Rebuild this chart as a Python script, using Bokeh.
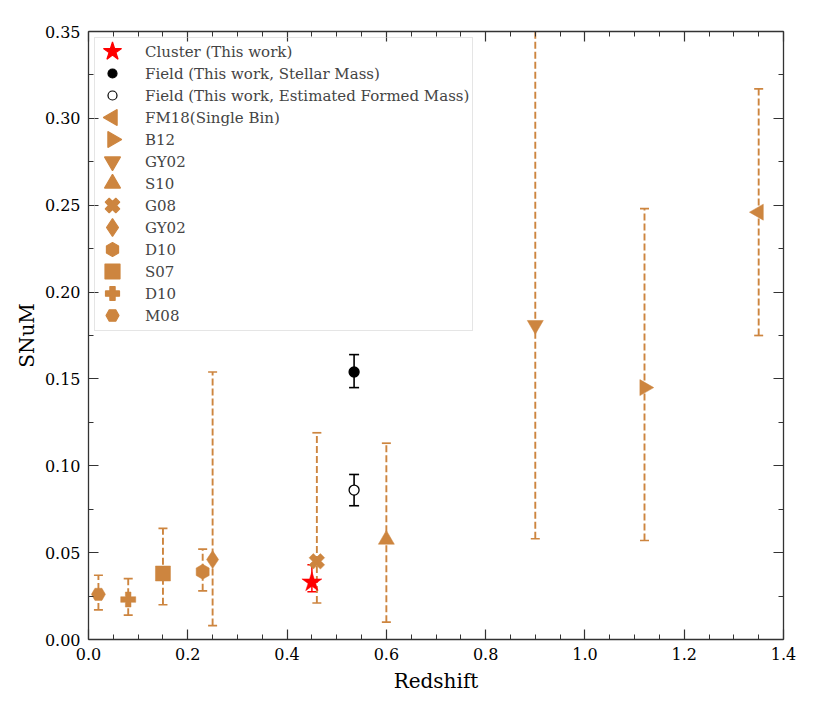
import numpy as np
from bokeh.plotting import figure
from bokeh.models import (ColumnDataSource, Whisker, TeeHead, LinearAxis, Legend,
                          LegendItem, Range1d, FixedTicker, PrintfTickFormatter,
                          CustomJSTickFormatter)
from bokeh.embed import file_html
from bokeh.resources import INLINE

# ---------------- data ----------------
cluster_z = [0.45]
cluster_snum = [0.033]
cluster_lo = [0.0275]
cluster_hi = [0.043]

field_z = [0.535]
field_sm_snum = [0.154]
field_sm_lo = [0.145]
field_sm_hi = [0.164]
field_fm_snum = [0.086]
field_fm_lo = [0.077]
field_fm_hi = [0.095]

lit_labels = ["FM18(Single Bin)", "B12", "GY02", "S10", "G08", "GY02",
              "D10", "S07", "D10", "M08"]
lit_z = [1.35, 1.12, 0.90, 0.60, 0.46, 0.25, 0.23, 0.15, 0.08, 0.02]
lit_snum = [0.246, 0.145, 0.181, 0.0575, 0.045, 0.046, 0.039, 0.038, 0.023, 0.026]
lit_lo = [0.175, 0.057, 0.058, 0.010, 0.021, 0.008, 0.028, 0.020, 0.014, 0.017]
lit_hi = [0.317, 0.248, 0.400, 0.113, 0.119, 0.154, 0.052, 0.064, 0.035, 0.037]

x_major_ticks = [0.0, 0.2, 0.4, 0.6, 0.8, 1.0, 1.2, 1.4]
x_minor_ticks = [0.05, 0.1, 0.15, 0.25, 0.3, 0.35, 0.45, 0.5, 0.55, 0.65, 0.7, 0.75,
                 0.85, 0.9, 0.95, 1.05, 1.1, 1.15, 1.25, 1.3, 1.35]
y_major_ticks = [0.0, 0.05, 0.10, 0.15, 0.20, 0.25, 0.30, 0.35]
y_minor_ticks = [0.025, 0.075, 0.125, 0.175, 0.225, 0.275, 0.325]

# ---------------- styles ----------------
PERU = "#CD853F"
FONT = "DejaVu Serif"
FRAME_W, FRAME_H = 695, 608
lit_markers = ["triangle", "triangle", "inverted_triangle", "triangle", "plus",
               "diamond", "hex", "square", "plus", "hex"]
lit_angles = [np.pi / 2, -np.pi / 2, 0, 0, np.pi / 4, 0, np.pi / 2, 0, 0, 0]
lit_sizes = [16, 16, 16, 16, 16, 18, 15, 15, 15, 14]
leg_lit_sizes = [16, 16, 16, 16, 15, 18, 14, 15, 14, 13]

p = figure(frame_width=FRAME_W, frame_height=FRAME_H, output_backend="svg",
           toolbar_location=None,
           x_range=Range1d(0, 1.4), y_range=Range1d(0, 0.35),
           min_border_left=88, min_border_right=28, min_border_top=31,
           min_border_bottom=70)
p.outline_line_color = None
p.xgrid.visible = False
p.ygrid.visible = False
p.background_fill_color = "white"
p.border_fill_color = "white"
p.extra_x_ranges = {"px": Range1d(0, FRAME_W)}
p.extra_y_ranges = {"py": Range1d(0, FRAME_H)}


def style_axis(ax, labels=True):
    ax.axis_line_color = "#333333"
    ax.axis_line_width = 1.3
    ax.major_tick_line_color = "#333333"
    ax.minor_tick_line_color = "#333333"
    ax.major_tick_in = 10
    ax.major_tick_out = 0
    ax.minor_tick_in = 5
    ax.minor_tick_out = 0
    ax.major_tick_line_width = 1.2
    ax.minor_tick_line_width = 1.0
    ax.major_label_text_font = FONT
    ax.major_label_text_font_size = "16px"
    ax.major_label_text_color = "black"
    ax.axis_label_text_font = FONT
    ax.axis_label_text_font_size = "20px"
    ax.axis_label_text_font_style = "normal"
    ax.axis_label_text_color = "black"
    if not labels:
        ax.formatter = CustomJSTickFormatter(code="return ''")
        ax.major_label_standoff = 0


p.xaxis.ticker = FixedTicker(ticks=x_major_ticks, minor_ticks=x_minor_ticks)
p.yaxis.ticker = FixedTicker(ticks=y_major_ticks, minor_ticks=y_minor_ticks)
p.xaxis.axis_label = "Redshift"
p.yaxis.axis_label = "SNuM"
style_axis(p.xaxis[0])
style_axis(p.yaxis[0])
p.xaxis.major_label_standoff = 8
p.yaxis.major_label_standoff = 8
p.xaxis.axis_label_standoff = 6
p.yaxis.axis_label_standoff = 3
p.xaxis.formatter = PrintfTickFormatter(format="%.1f")
p.yaxis.formatter = PrintfTickFormatter(format="%.2f")

top_ax = LinearAxis(ticker=FixedTicker(ticks=x_major_ticks, minor_ticks=x_minor_ticks))
right_ax = LinearAxis(ticker=FixedTicker(ticks=y_major_ticks, minor_ticks=y_minor_ticks))
style_axis(top_ax, labels=False)
style_axis(right_ax, labels=False)
p.add_layout(top_ax, "above")
p.add_layout(right_ax, "right")

# cluster
src_c = ColumnDataSource(dict(x=cluster_z, y=cluster_snum, lo=cluster_lo, hi=cluster_hi))
p.add_layout(Whisker(source=src_c, base="x", lower="lo", upper="hi", dimension="height",
                     line_color="red", line_width=1.5,
                     upper_head=TeeHead(size=9, line_color="red", line_width=1.5),
                     lower_head=TeeHead(size=9, line_color="red", line_width=1.5)))

# field
src_f1 = ColumnDataSource(dict(x=field_z, y=field_sm_snum, lo=field_sm_lo, hi=field_sm_hi))
src_f2 = ColumnDataSource(dict(x=field_z, y=field_fm_snum, lo=field_fm_lo, hi=field_fm_hi))
for s in (src_f1, src_f2):
    p.add_layout(Whisker(source=s, base="x", lower="lo", upper="hi", dimension="height",
                         line_color="black", line_width=1.6,
                         upper_head=TeeHead(size=10, line_color="black", line_width=1.6),
                         lower_head=TeeHead(size=10, line_color="black", line_width=1.6)))

# literature
for i in range(len(lit_z)):
    s = ColumnDataSource(dict(x=[lit_z[i]], y=[lit_snum[i]], lo=[lit_lo[i]], hi=[lit_hi[i]]))
    p.add_layout(Whisker(source=s, base="x", lower="lo", upper="hi", dimension="height",
                         line_color=PERU, line_width=1.9, line_dash="7 3",
                         upper_head=TeeHead(size=9, line_color=PERU, line_width=1.7),
                         lower_head=TeeHead(size=9, line_color=PERU, line_width=1.7)))
    p.scatter("x", "y", source=s, marker=lit_markers[i], angle=lit_angles[i],
              size=lit_sizes[i], fill_color=PERU, line_color=PERU, line_width=0.5)

p.scatter("x", "y", source=src_f1, marker="circle", size=10,
          fill_color="black", line_color="black", line_width=1.3)
p.scatter("x", "y", source=src_f2, marker="circle", size=10,
          fill_color="white", line_color="black", line_width=1.3)
p.scatter("x", "y", source=src_c, marker="star", size=21,
          fill_color="red", line_color="red", line_width=0.5)

# ---------------- legend ----------------
LEG_MARGIN, LEG_PAD, GLYPH_W, ITEM_H = 6, 3, 28, 22
all_labels = ["Cluster (This work)", "Field (This work, Stellar Mass)",
              "Field (This work, Estimated Formed Mass)"] + lit_labels
dummy = p.scatter(x=[], y=[], size=0, fill_alpha=0, line_alpha=0)
items = [LegendItem(label=lab, renderers=[dummy]) for lab in all_labels]
legend = Legend(items=items, location="top_left", margin=LEG_MARGIN, padding=LEG_PAD,
                spacing=0, glyph_width=GLYPH_W, glyph_height=ITEM_H, label_height=ITEM_H,
                label_standoff=19,
                label_text_font=FONT, label_text_font_size="15px",
                border_line_color="#cccccc", border_line_width=1,
                background_fill_alpha=0.0, background_fill_color="white")
p.add_layout(legend, "center")

# legend swatches (same marker styles as the plotted series)
n_items = len(all_labels)
leg_x = [LEG_MARGIN + LEG_PAD + GLYPH_W / 2 + 1] * n_items
leg_y = [FRAME_H - LEG_MARGIN - LEG_PAD - ITEM_H / 2 - ITEM_H * k for k in range(n_items)]
leg_markers = ["star", "circle", "circle"] + lit_markers
leg_angles = [0, 0, 0] + lit_angles
leg_sizes = [19, 9, 9] + leg_lit_sizes
leg_fill = ["red", "black", "white"] + [PERU] * len(lit_labels)
leg_line = ["red", "black", "black"] + [PERU] * len(lit_labels)
leg_src = ColumnDataSource(dict(x=leg_x, y=leg_y, m=leg_markers, a=leg_angles,
                                s=leg_sizes, f=leg_fill, l=leg_line))
p.scatter("x", "y", source=leg_src, marker="m", angle="a", size="s",
          fill_color="f", line_color="l", line_width=1.2,
          x_range_name="px", y_range_name="py", level="overlay")

open("out.html", "w").write(file_html(p, INLINE))
